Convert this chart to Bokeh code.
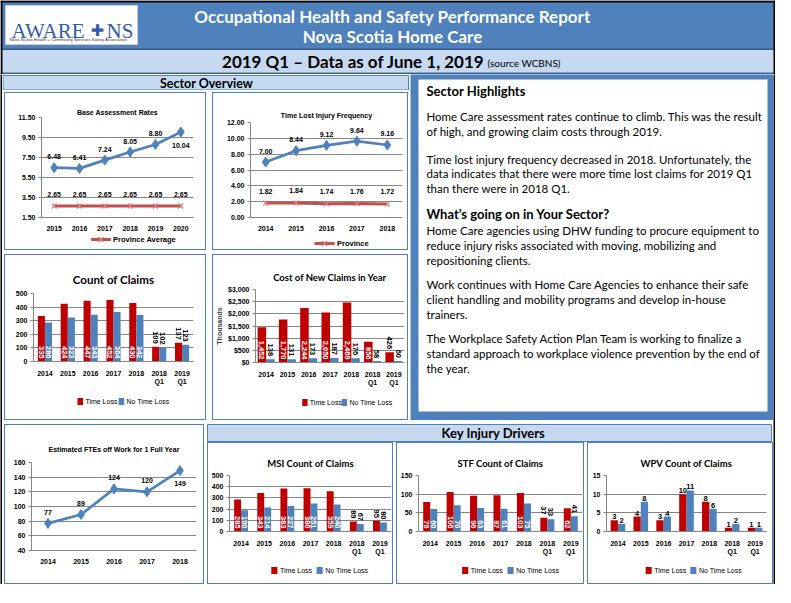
import math
from bokeh.plotting import figure
from bokeh.models import (ColumnDataSource, FactorRange, Range1d, LabelSet,
                          NumeralTickFormatter, FixedTicker, Spacer)
from bokeh.layouts import row, column
from bokeh.core.properties import value, field
from bokeh.transform import dodge
from bokeh.embed import file_html
from bokeh.resources import INLINE

# ---------------- data ----------------
rate_years = ["2015", "2016", "2017", "2018", "2019", "2020"]
rate_sector = [6.48, 6.41, 7.24, 8.05, 8.80, 10.04]
rate_province = [2.65, 2.65, 2.65, 2.65, 2.65, 2.65]

freq_years = ["2014", "2015", "2016", "2017", "2018"]
freq_sector = [7.00, 8.44, 9.12, 9.64, 9.16]
freq_province = [1.82, 1.84, 1.74, 1.76, 1.72]

claim_periods = ["2014", "2015", "2016", "2017", "2018", "2018\nQ1", "2019\nQ1"]
count_time_loss = [335, 424, 447, 452, 430, 109, 137]
count_no_time_loss = [286, 323, 343, 364, 342, 102, 123]
cost_time_loss = [1452, 1770, 2244, 2050, 2469, 856, 426]
cost_no_time_loss = [138, 131, 173, 187, 176, 58, 60]
msi_time_loss = [285, 343, 383, 386, 359, 89, 95]
msi_no_time_loss = [190, 214, 227, 251, 240, 67, 80]
stf_time_loss = [79, 106, 96, 97, 103, 37, 62]
stf_no_time_loss = [60, 70, 63, 61, 75, 33, 41]
wpv_time_loss = [3, 4, 3, 10, 8, 1, 1]
wpv_no_time_loss = [2, 8, 4, 11, 6, 2, 1]

fte_years = ["2014", "2015", "2016", "2017", "2018"]
fte_values = [77, 89, 124, 120, 149]

report_title = ["Occupational Health and Safety Performance Report", "Nova Scotia Home Care"]
report_sub = "2019 Q1 \u2013 Data as of June 1, 2019"
report_source = "(source WCBNS)"

panel_heading_1 = "Sector Highlights"
panel_heading_2 = "What\u2019s going on in Your Sector?"
panel_paragraphs = [
    ["Home Care assessment rates continue to climb. This was the result",
     "of high, and growing  claim costs through 2019."],
    ["Time lost injury frequency decreased in 2018. Unfortunately, the",
     "data indicates that there were more time lost claims for 2019 Q1",
     "than there were in 2018 Q1."],
    ["Home Care agencies using DHW funding to procure equipment to",
     "reduce injury risks associated with moving, mobilizing and",
     "repositioning clients."],
    ["Work continues with Home Care Agencies to enhance their safe",
     "client handling and mobility programs and develop  in-house",
     "trainers."],
    ["The Workplace Safety Action Plan Team is working to finalize a",
     "standard approach to workplace violence prevention by the end of",
     "the year."],
]

# ---------------- styles ----------------
BLUE = "#4F81BD"
LINE_RED = "#C0504D"
BAR_RED = "#C00000"
LIGHT = "#C6D9F1"
GRID = "#868686"
AXF = "Liberation Sans"
TXF = "Lato"


def box_styles(top=True, bottom=True):
    s = {"border": "1px solid " + BLUE, "box-sizing": "border-box"}
    if not top:
        s["border-top"] = "none"
    if not bottom:
        s["border-bottom"] = "none"
    return s


def make_fig(w, h, xr, yr, left, right, top, bottom, styles):
    p = figure(width=w, height=h, x_range=xr, y_range=yr, output_backend="svg",
               toolbar_location=None, min_border_left=left, min_border_right=right,
               min_border_top=top, min_border_bottom=bottom,
               background_fill_color="white", border_fill_color="white",
               outline_line_color=None, styles=styles)
    p.xgrid.grid_line_color = None
    p.ygrid.grid_line_color = GRID
    return p


def deco_fig(w, h, bg="white", styles=None):
    kw = {} if styles is None else {"styles": styles}
    return figure(width=w, height=h, x_range=Range1d(0, w), y_range=Range1d(h, 0),
                  x_axis_type=None, y_axis_type=None, output_backend="svg",
                  toolbar_location=None, min_border=0, background_fill_color=bg,
                  border_fill_color=bg, outline_line_color=None, **kw)


def sp(w, h):
    return Spacer(width=w, height=h)


def finish_axes(p, ticks, fmt):
    for ax in list(p.xaxis) + list(p.yaxis):
        ax.axis_line_color = GRID
        ax.major_tick_line_color = GRID
        ax.major_tick_in = 0
        ax.major_tick_out = 3
        ax.minor_tick_line_color = None
        ax.major_label_text_font = AXF
        ax.major_label_text_font_size = "7px"
        ax.major_label_text_font_style = "bold"
        ax.major_label_text_color = "black"
        ax.major_label_standoff = 3
    p.xaxis.major_tick_line_color = None
    p.xaxis.major_label_standoff = 5
    p.yaxis.ticker = FixedTicker(ticks=ticks)
    p.yaxis.formatter = NumeralTickFormatter(format=fmt)


def set_title(p, text, size, font, standoff):
    p.title.text = text
    p.title.align = "center"
    p.title.text_font = font
    p.title.text_font_size = size
    p.title.text_font_style = "bold"
    p.title.text_color = "black"
    p.title.standoff = standoff


def line_legend(w, h, cx, cy, label, tw):
    p = deco_fig(w, h, "white", box_styles(top=False))
    s = cx - (26 + 3 + tw) / 2
    p.segment(x0=[s], y0=[cy], x1=[s + 26], y1=[cy], line_color=LINE_RED, line_width=3)
    p.scatter(x=[s + 13], y=[cy], marker="x", size=7, line_color="#E07A77", line_width=1.2)
    p.text(x=[s + 29], y=[cy], text=[label], text_font=value(AXF), text_font_size="7.5px",
           text_font_style="bold", text_baseline="middle", text_color="black")
    return p


def bar_legend(w, h, cx, cy):
    p = deco_fig(w, h, "white", box_styles(top=False))
    tw1, tw2 = 32, 43
    total = 7 + 3 + tw1 + 10 + 7 + 3 + tw2
    s = cx - total / 2
    s2 = s + 7 + 3 + tw1 + 10
    p.quad(left=[s, s2], right=[s + 7, s2 + 7], top=[cy - 3.5, cy - 3.5],
           bottom=[cy + 3.5, cy + 3.5], fill_color=[BAR_RED, BLUE], line_color=None)
    p.text(x=[s + 10, s2 + 10], y=[cy, cy], text=["Time Loss", "No Time Loss"],
           text_font=value(AXF), text_font_size="7px", text_baseline="middle",
           text_color="black")
    return p


def line_chart(w, ch, lh, cats, main, prov, ymin, ymax, step, fmt, lab_fmt, title, standoff,
               borders, legend_label=None, legend_tw=0, legend_cy=8):
    has_leg = prov is not None
    p = make_fig(w, ch, FactorRange(*cats), Range1d(ymin, ymax), *borders,
                 box_styles(bottom=not has_leg))
    n = int(round((ymax - ymin) / step))
    finish_axes(p, [ymin + k * step for k in range(n + 1)], fmt)
    top_i = max(range(len(main)), key=lambda i: main[i])
    offs = [-13 if (i == len(main) - 1 and i == top_i) else 11 for i in range(len(main))]
    s = ColumnDataSource(dict(cat=cats, v=main, t=[lab_fmt.format(v) for v in main], off=offs))
    p.line("cat", "v", source=s, line_color=BLUE, line_width=2.7)
    p.scatter("cat", "v", source=s, marker="diamond", size=10, fill_color=BLUE, line_color=BLUE)
    p.add_layout(LabelSet(x="cat", y="v", text="t", y_offset="off", source=s,
                          text_align="center", text_baseline="middle", text_font=value(AXF),
                          text_font_size=value("7px"), text_font_style="bold", text_color="black"))
    set_title(p, title, "7px", AXF, standoff)
    if not has_leg:
        return p
    ps = ColumnDataSource(dict(cat=cats, v=prov, t=[lab_fmt.format(v) for v in prov]))
    p.line("cat", "v", source=ps, line_color=LINE_RED, line_width=3)
    p.scatter("cat", "v", source=ps, marker="x", size=7, line_color="#E07A77", line_width=1.2)
    p.add_layout(LabelSet(x="cat", y="v", text="t", y_offset=12, source=ps,
                          text_align="center", text_baseline="middle", text_font=value(AXF),
                          text_font_size=value("7px"), text_font_style="bold", text_color="black"))
    cx = (borders[0] + w - borders[1]) / 2
    return column(p, line_legend(w, lh, cx, legend_cy, legend_label, legend_tw))


def bar_chart(w, ch, lh, title, tsize, tl, ntl, ymax, step, fmt, lab_fmt, standoff, borders,
              legend_cy, bw=0.31, rotated=True, thresh=0.28, ylabel=None):
    p = make_fig(w, ch, FactorRange(*claim_periods), Range1d(0, ymax), *borders,
                 box_styles(bottom=False))
    n = int(round(ymax / step))
    finish_axes(p, [k * step for k in range(n + 1)], fmt)
    src = ColumnDataSource(dict(period=claim_periods, tl=tl, ntl=ntl))
    for key, off, col in (("tl", -bw / 2, BAR_RED), ("ntl", bw / 2, BLUE)):
        p.vbar(x=dodge("period", off, range=p.x_range), top=key, width=bw, source=src,
               fill_color=col, line_color=None)
        vals = src.data[key]
        txt = [lab_fmt.format(v) for v in vals]
        if rotated:
            inside = [v / ymax >= thresh for v in vals]
            ly = [0 if i else v for v, i in zip(vals, inside)]
            cl = ["white" if i else "black" for i in inside]
            ls = ColumnDataSource(dict(period=claim_periods, y=ly, c=cl, t=txt))
            p.add_layout(LabelSet(x=dodge("period", off, range=p.x_range), y="y", text="t",
                                  source=ls, angle=-math.pi / 2, text_align="right",
                                  text_baseline="middle", y_offset=3, text_color=field("c"),
                                  text_font=value(AXF), text_font_size=value("7.5px"),
                                  text_font_style="bold"))
        else:
            ls = ColumnDataSource(dict(period=claim_periods, y=vals, t=txt))
            p.add_layout(LabelSet(x=dodge("period", off, range=p.x_range), y="y", text="t",
                                  source=ls, text_align="center", text_baseline="bottom",
                                  y_offset=1, text_color="black", text_font=value(AXF),
                                  text_font_size=value("7.5px"), text_font_style="bold"))
    if ylabel:
        p.yaxis.axis_label = ylabel
        p.yaxis.axis_label_text_font = AXF
        p.yaxis.axis_label_text_font_size = "7px"
        p.yaxis.axis_label_text_font_style = "bold"
        p.yaxis.axis_label_standoff = 2
    set_title(p, title, tsize, TXF, standoff)
    cx = (borders[0] + w - borders[1]) / 2
    return column(p, bar_legend(w, lh, cx, legend_cy))


# ---------------- header ----------------
W = 775
hdr = deco_fig(W, 74, "white")
hdr.quad(left=0, right=W, top=0, bottom=49, fill_color=BLUE, line_color=None)
hdr.quad(left=0, right=W, top=49, bottom=72, fill_color=LIGHT, line_color=None)
hdr.quad(left=0, right=W, top=72, bottom=74, fill_color="#385D8A", line_color=None)
hdr.quad(left=0, right=W, top=48, bottom=49.5, fill_color="#385D8A", line_color=None)
hdr.quad(left=0, right=2, top=0, bottom=74, fill_color="black", line_color=None)
hdr.quad(left=W - 2, right=W, top=0, bottom=74, fill_color="black", line_color=None)
hdr.quad(left=0, right=W, top=0, bottom=2, fill_color="black", line_color=None)
hdr.quad(left=5, right=137, top=5, bottom=44, fill_color="white", line_color="#D0D0D0")
hdr.text(x=[11], y=[30], text=["AWARE"], text_font=value("Liberation Serif"),
         text_font_size="21px", text_color="#2F5DA9", text_baseline="alphabetic")
hdr.text(x=[97], y=[29.5], text=["\u271a"], text_font=value("DejaVu Sans"),
         text_font_size="16px", text_color="#2F5DA9", text_align="center",
         text_baseline="alphabetic")
hdr.text(x=[106], y=[30], text=["NS"], text_font=value("Liberation Serif"),
         text_font_size="21px", text_color="#2F5DA9", text_baseline="alphabetic")
hdr.text(x=[9], y=[38.5], text=["Nova Scotia Health + Community Services Safety Association"],
         text_font=value("Liberation Sans"), text_font_size="4.3px", text_color="#333333",
         text_baseline="middle")
hdr.text(x=[392, 392], y=[16, 36], text=report_title, text_font=value(TXF),
         text_font_size="17px", text_font_style="bold", text_color="white",
         text_align="center", text_baseline="middle")
hdr.text(x=[484], y=[61], text=[report_sub], text_font=value(TXF), text_font_size="17px",
         text_font_style="bold", text_color="black", text_align="right", text_baseline="middle")
hdr.text(x=[487], y=[62.5], text=[report_source], text_font=value(TXF), text_font_size="10px",
         text_color="black", text_align="left", text_baseline="middle")

# ---------------- section headers ----------------
so_hdr = deco_fig(408, 16, "white")
so_hdr.quad(left=0.5, right=406, top=1, bottom=15.5, fill_color=LIGHT, line_color=BLUE, line_width=1)
so_hdr.text(x=[204], y=[8.5], text=["Sector Overview"], text_font=value(TXF),
            text_font_size="12.5px", text_font_style="bold", text_align="center",
            text_baseline="middle", text_color="black")

kid_hdr = deco_fig(569, 22, "white")
kid_hdr.quad(left=3, right=567, top=4, bottom=21, fill_color=LIGHT, line_color=BLUE, line_width=1)
kid_hdr.text(x=[289], y=[12.5], text=["Key Injury Drivers"], text_font=value(TXF),
             text_font_size="13px", text_font_style="bold", text_align="center",
             text_baseline="middle", text_color="black")

# ---------------- text panel ----------------
txt_p = deco_fig(363, 346, BLUE)
txt_p.quad(left=8, right=357, top=5, bottom=337, fill_color="white", line_color=None)
txt_p.text(x=[16, 16], y=[16.5, 139.5], text=[panel_heading_1, panel_heading_2],
           text_font=value(TXF), text_font_size="13px", text_font_style="bold",
           text_baseline="middle", text_color="black")
para_start = [42.3, 84.5, 156.3, 210.4, 264.4]
lx, ly, lt = [], [], []
for y0, para in zip(para_start, panel_paragraphs):
    for k, line in enumerate(para):
        lx.append(16)
        ly.append(y0 + 14.7 * k)
        lt.append(line)
txt_p.text(x=lx, y=ly, text=lt, text_font=value(TXF), text_font_size="11.5px",
           text_baseline="middle", text_color="black")

# ---------------- charts ----------------
base_u = line_chart(202, 140, 18, rate_years, rate_sector, rate_province, 1.5, 11.5, 2, "0.00",
                    "{:.2f}", "Base Assessment Rates", 4, (36, 14, 24, 16),
                    "Province Average", 63, 7)
tlif_u = line_chart(196, 140, 18, freq_years, freq_sector, freq_province, 0, 12, 2, "0.00",
                    "{:.2f}", "Time Lost Injury Frequency", 7, (37, 7, 29, 16),
                    "Province", 32, 11)
count_u = bar_chart(202, 136, 30, "Count of Claims", "11.5px", count_time_loss,
                    count_no_time_loss, 500, 100, "0", "{:d}", 15, (28, 14, 38, 30), 11,
                    bw=0.31)
cost_u = bar_chart(196, 137, 29, "Cost of New Claims in Year", "9.5px", cost_time_loss,
                   cost_no_time_loss, 3000, 500, "$0,0", "{:,}", 13, (37, 5, 34, 30), 11,
                   bw=0.4, ylabel="Thousands")
fte_p = line_chart(200, 160, 0, fte_years, fte_values, None, 40, 160, 20, "0", "{:d}",
                   "Estimated FTEs off Work for 1 Full Year", 19, (26, 9, 37, 35))
msi_u = bar_chart(186, 116, 26, "MSI Count of Claims", "9.5px", msi_time_loss,
                  msi_no_time_loss, 500, 100, "0", "{:d}", 14, (18, 3, 32, 28), 12, bw=0.3)
stf_u = bar_chart(188, 116, 26, "STF Count of Claims", "9.5px", stf_time_loss,
                  stf_no_time_loss, 150, 50, "0", "{:d}", 14, (20, 3, 32, 28), 12, bw=0.3)
wpv_u = bar_chart(186, 116, 26, "WPV Count of Claims", "9.5px", wpv_time_loss,
                  wpv_no_time_loss, 15, 5, "0", "{:d}", 14, (18, 8, 32, 28), 12, bw=0.32,
                  rotated=False)

left_panel = column(
    so_hdr,
    sp(408, 2),
    row(sp(2, 158), base_u, sp(6, 158), tlif_u, sp(2, 158)),
    sp(408, 4),
    row(sp(2, 166), count_u, sp(6, 166), cost_u, sp(2, 166)),
)
middle = row(left_panel, txt_p)
bottom = row(
    column(sp(202, 4), row(sp(2, 160), fte_p)),
    column(kid_hdr, row(sp(3, 142), msi_u, sp(3, 142), stf_u, sp(3, 142), wpv_u)),
)
body = row(deco_fig(2, 510, "black"), column(middle, bottom), deco_fig(2, 510, "black"))
layout = column(hdr, body, deco_fig(W, 3, "black"))

open("out.html", "w").write(file_html(layout, INLINE))
